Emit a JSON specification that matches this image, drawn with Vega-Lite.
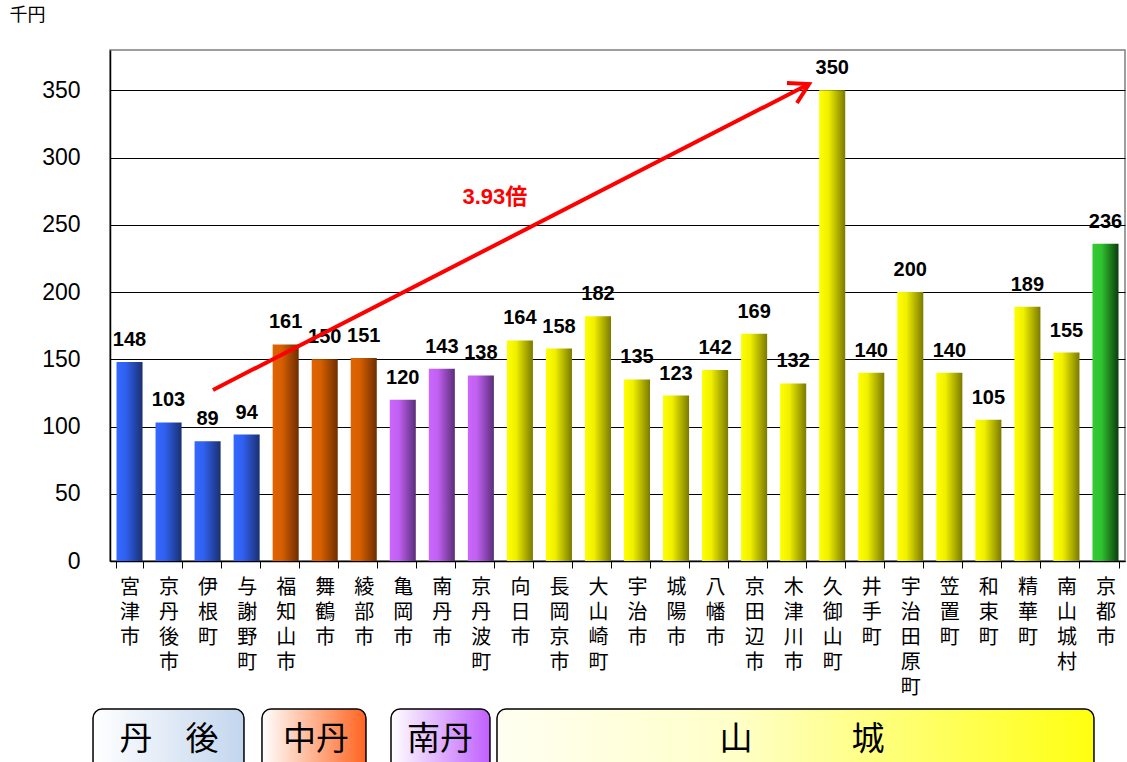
{
  "$schema": "https://vega.github.io/schema/vega-lite/v6.json",
  "autosize": {"type": "none"},
  "width": 1015,
  "height": 511,
  "padding": {"left": 110, "top": 50, "right": 2, "bottom": 201},
  "background": "white",
  "config": {
    "view": {"stroke": "#7f7f7f", "strokeWidth": 1.5},
    "axis": {"domainColor": "black", "tickColor": "black", "gridColor": "black", "labelColor": "black", "titleColor": "black"}
  },
  "datasets": {
    "towns": [
      {"name": "宮津市", "value": 148, "region": "丹後"},
      {"name": "京丹後市", "value": 103, "region": "丹後"},
      {"name": "伊根町", "value": 89, "region": "丹後"},
      {"name": "与謝野町", "value": 94, "region": "丹後"},
      {"name": "福知山市", "value": 161, "region": "中丹"},
      {"name": "舞鶴市", "value": 150, "region": "中丹"},
      {"name": "綾部市", "value": 151, "region": "中丹"},
      {"name": "亀岡市", "value": 120, "region": "南丹"},
      {"name": "南丹市", "value": 143, "region": "南丹"},
      {"name": "京丹波町", "value": 138, "region": "南丹"},
      {"name": "向日市", "value": 164, "region": "山城"},
      {"name": "長岡京市", "value": 158, "region": "山城"},
      {"name": "大山崎町", "value": 182, "region": "山城"},
      {"name": "宇治市", "value": 135, "region": "山城"},
      {"name": "城陽市", "value": 123, "region": "山城"},
      {"name": "八幡市", "value": 142, "region": "山城"},
      {"name": "京田辺市", "value": 169, "region": "山城"},
      {"name": "木津川市", "value": 132, "region": "山城"},
      {"name": "久御山町", "value": 350, "region": "山城"},
      {"name": "井手町", "value": 140, "region": "山城"},
      {"name": "宇治田原町", "value": 200, "region": "山城"},
      {"name": "笠置町", "value": 140, "region": "山城"},
      {"name": "和束町", "value": 105, "region": "山城"},
      {"name": "精華町", "value": 189, "region": "山城"},
      {"name": "南山城村", "value": 155, "region": "山城"},
      {"name": "京都市", "value": 236, "region": "京都市"}
    ],
    "arrow": [
      {"seg": "shaft", "ord": 0, "x": 2.638, "y": 127.2},
      {"seg": "shaft", "ord": 1, "x": 17.905, "y": 354.7},
      {"seg": "head", "ord": 0, "x": 17.341, "y": 355.5},
      {"seg": "head", "ord": 1, "x": 17.905, "y": 354.7},
      {"seg": "head", "ord": 2, "x": 17.597, "y": 340.6}
    ],
    "boxes": [
      {"region": "丹後", "start": -0.435, "end": 3.432, "mid": 1.511, "label": "丹　後"},
      {"region": "中丹", "start": 3.893, "end": 6.557, "mid": 5.277, "label": "中丹"},
      {"region": "南丹", "start": 7.198, "end": 9.733, "mid": 8.453, "label": "南丹"},
      {"region": "山城", "start": 9.913, "end": 25.205, "mid": 17.725, "label": "山　　　城"}
    ],
    "note": [{"label": "3.93倍", "x": 9.86, "y": 270.7}]
  },
  "layer": [
    {
      "data": {"name": "towns"},
      "encoding": {
        "x": {
          "field": "name", "type": "nominal", "sort": null,
          "scale": {
            "domain": ["宮津市","京丹後市","伊根町","与謝野町","福知山市","舞鶴市","綾部市","亀岡市","南丹市","京丹波町","向日市","長岡京市","大山崎町","宇治市","城陽市","八幡市","京田辺市","木津川市","久御山町","井手町","宇治田原町","笠置町","和束町","精華町","南山城村","京都市"],
            "paddingInner": 0.333, "paddingOuter": 0.1665
          },
          "axis": {
            "title": null, "labelExpr": "split(datum.label, '')", "labelAngle": 0,
            "labelFontSize": 20, "labelLineHeight": 25, "labelBaseline": "top", "labelAlign": "center",
            "labelPadding": 9, "labelFont": "Noto Sans CJK JP", "tickBand": "extent", "tickSize": 7,
            "labelOverlap": false, "labelBound": false, "grid": false, "domainWidth": 1.5
          }
        },
        "y": {
          "field": "value", "type": "quantitative",
          "scale": {"domain": [0, 380], "nice": false, "zero": true},
          "axis": {
            "values": [0, 50, 100, 150, 200, 250, 300, 350], "grid": true, "gridWidth": 1,
            "ticks": false, "tickSize": 0, "labelFontSize": 23, "labelFont": "Liberation Sans",
            "labelPadding": 30, "domainWidth": 1.5,
            "title": "千円", "titleAngle": 0, "titleAlign": "left", "titleBaseline": "top",
            "titleX": -101, "titleY": -44, "titleFontSize": 18, "titleFontWeight": "normal",
            "titleFont": "Noto Sans CJK JP"
          }
        }
      },
      "layer": [
        {
          "transform": [{"filter": "datum.region === '丹後'"}],
          "mark": {"type": "bar", "color": {"gradient": "linear", "x1": 0, "x2": 1, "y1": 0, "y2": 0, "stops": [{"offset": 0, "color": "#3468ff"}, {"offset": 0.35, "color": "#3060f0"}, {"offset": 1, "color": "#1a3070"}]}}
        },
        {
          "transform": [{"filter": "datum.region === '中丹'"}],
          "mark": {"type": "bar", "color": {"gradient": "linear", "x1": 0, "x2": 1, "y1": 0, "y2": 0, "stops": [{"offset": 0, "color": "#e06400"}, {"offset": 0.35, "color": "#d65f00"}, {"offset": 1, "color": "#6e2d00"}]}}
        },
        {
          "transform": [{"filter": "datum.region === '南丹'"}],
          "mark": {"type": "bar", "color": {"gradient": "linear", "x1": 0, "x2": 1, "y1": 0, "y2": 0, "stops": [{"offset": 0, "color": "#cc66ff"}, {"offset": 0.35, "color": "#c060f0"}, {"offset": 1, "color": "#5a2d7a"}]}}
        },
        {
          "transform": [{"filter": "datum.region === '山城'"}],
          "mark": {"type": "bar", "color": {"gradient": "linear", "x1": 0, "x2": 1, "y1": 0, "y2": 0, "stops": [{"offset": 0, "color": "#ffff00"}, {"offset": 0.35, "color": "#f0f000"}, {"offset": 1, "color": "#7a7a00"}]}}
        },
        {
          "transform": [{"filter": "datum.region === '京都市'"}],
          "mark": {"type": "bar", "color": {"gradient": "linear", "x1": 0, "x2": 1, "y1": 0, "y2": 0, "stops": [{"offset": 0, "color": "#33cc33"}, {"offset": 0.35, "color": "#30c030"}, {"offset": 1, "color": "#0b3d0b"}]}}
        },
        {
          "mark": {"type": "text", "baseline": "alphabetic", "align": "center", "dy": -16, "font": "Liberation Sans", "fontWeight": "bold", "fontSize": 20, "color": "black"},
          "encoding": {"text": {"field": "value", "type": "quantitative"}}
        }
      ]
    },
    {
      "layer": [
        {
          "data": {"name": "boxes"},
          "transform": [{"filter": "datum.region === '丹後'"}],
          "mark": {"type": "rect", "cornerRadius": 9, "stroke": "black", "strokeWidth": 1.5, "fill": {"gradient": "linear", "x1": 0, "x2": 1, "y1": 0, "y2": 0, "stops": [{"offset": 0, "color": "#ffffff"}, {"offset": 1, "color": "#c3d6ee"}]}},
          "encoding": {
            "x": {"field": "start", "type": "quantitative", "scale": {"domain": [0, 26], "nice": false, "zero": false}, "axis": null},
            "x2": {"field": "end"},
            "y": {"datum": -110.1, "type": "quantitative", "scale": {"domain": [0, 380], "nice": false}},
            "y2": {"datum": -159}
          }
        },
        {
          "data": {"name": "boxes"},
          "transform": [{"filter": "datum.region === '中丹'"}],
          "mark": {"type": "rect", "cornerRadius": 9, "stroke": "black", "strokeWidth": 1.5, "fill": {"gradient": "linear", "x1": 0, "x2": 1, "y1": 0, "y2": 0, "stops": [{"offset": 0, "color": "#ffffff"}, {"offset": 1, "color": "#ff6420"}]}},
          "encoding": {
            "x": {"field": "start", "type": "quantitative", "scale": {"domain": [0, 26], "nice": false, "zero": false}, "axis": null},
            "x2": {"field": "end"},
            "y": {"datum": -110.1, "type": "quantitative", "scale": {"domain": [0, 380], "nice": false}},
            "y2": {"datum": -159}
          }
        },
        {
          "data": {"name": "boxes"},
          "transform": [{"filter": "datum.region === '南丹'"}],
          "mark": {"type": "rect", "cornerRadius": 9, "stroke": "black", "strokeWidth": 1.5, "fill": {"gradient": "linear", "x1": 0, "x2": 1, "y1": 0, "y2": 0, "stops": [{"offset": 0, "color": "#ffffff"}, {"offset": 1, "color": "#c060ff"}]}},
          "encoding": {
            "x": {"field": "start", "type": "quantitative", "scale": {"domain": [0, 26], "nice": false, "zero": false}, "axis": null},
            "x2": {"field": "end"},
            "y": {"datum": -110.1, "type": "quantitative", "scale": {"domain": [0, 380], "nice": false}},
            "y2": {"datum": -159}
          }
        },
        {
          "data": {"name": "boxes"},
          "transform": [{"filter": "datum.region === '山城'"}],
          "mark": {"type": "rect", "cornerRadius": 9, "stroke": "black", "strokeWidth": 1.5, "fill": {"gradient": "linear", "x1": 0, "x2": 1, "y1": 0, "y2": 0, "stops": [{"offset": 0, "color": "#fffff2"}, {"offset": 0.4, "color": "#ffffc8"}, {"offset": 1, "color": "#ffff10"}]}},
          "encoding": {
            "x": {"field": "start", "type": "quantitative", "scale": {"domain": [0, 26], "nice": false, "zero": false}, "axis": null},
            "x2": {"field": "end"},
            "y": {"datum": -110.1, "type": "quantitative", "scale": {"domain": [0, 380], "nice": false}},
            "y2": {"datum": -159}
          }
        },
        {
          "data": {"name": "boxes"},
          "mark": {"type": "text", "font": "Noto Sans CJK JP", "fontSize": 33, "baseline": "middle", "align": "center", "color": "black"},
          "encoding": {
            "x": {"field": "mid", "type": "quantitative", "scale": {"domain": [0, 26], "nice": false, "zero": false}, "axis": null},
            "y": {"datum": -133, "type": "quantitative", "scale": {"domain": [0, 380], "nice": false}},
            "text": {"field": "label", "type": "nominal"}
          }
        },
        {
          "data": {"name": "arrow"},
          "mark": {"type": "line", "color": "#ff0000", "strokeWidth": 4, "strokeJoin": "miter", "strokeCap": "butt"},
          "encoding": {
            "x": {"field": "x", "type": "quantitative", "scale": {"domain": [0, 26], "nice": false, "zero": false}, "axis": null},
            "y": {"field": "y", "type": "quantitative", "scale": {"domain": [0, 380], "nice": false}},
            "detail": {"field": "seg", "type": "nominal"},
            "order": {"field": "ord", "type": "quantitative"}
          }
        },
        {
          "data": {"name": "note"},
          "mark": {"type": "text", "font": "Liberation Sans, Noto Sans CJK JP", "fontWeight": "bold", "fontSize": 22, "color": "#ff0000", "baseline": "middle", "align": "center"},
          "encoding": {
            "x": {"field": "x", "type": "quantitative", "scale": {"domain": [0, 26], "nice": false, "zero": false}, "axis": null},
            "y": {"field": "y", "type": "quantitative", "scale": {"domain": [0, 380], "nice": false}},
            "text": {"field": "label", "type": "nominal"}
          }
        }
      ]
    }
  ],
  "resolve": {"scale": {"x": "independent"}, "axis": {"x": "independent"}}
}
